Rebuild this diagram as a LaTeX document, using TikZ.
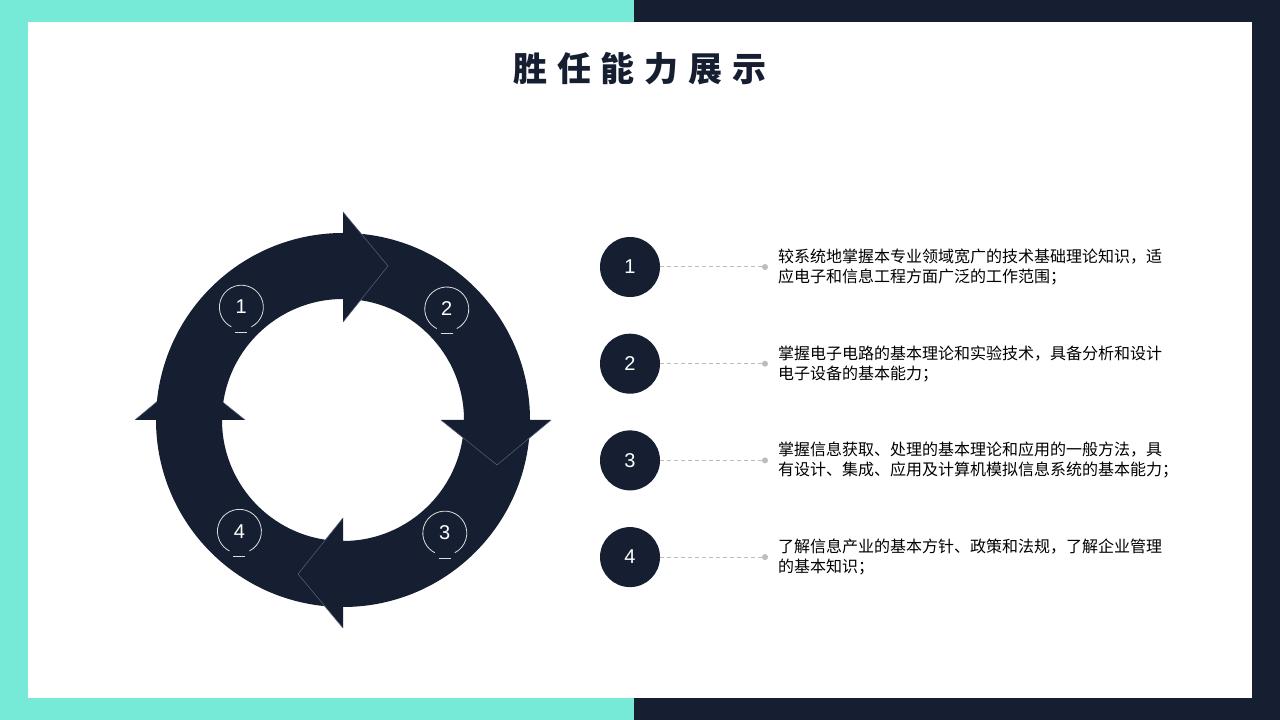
\documentclass[tikz,border=0pt]{standalone}
\usepackage{fontspec}
\setmainfont{Liberation Sans}
\newfontfamily\cjk{Noto Sans CJK SC}
\usetikzlibrary{positioning}
\definecolor{navy}{HTML}{161E31}
\definecolor{mint}{HTML}{76EAD7}
\definecolor{seamgray}{HTML}{535B6E}
\definecolor{leadgray}{HTML}{BDBDBD}

\begin{document}
\begin{tikzpicture}[
  x=1pt, y=1pt,
  every node/.style={inner sep=0pt},
  seam/.style={draw=seamgray, line width=0.6pt},
  ringno/.style={circle, minimum size=44pt, text=white, font=\fontsize{20}{24}\selectfont},
  ringline/.style={draw=white!85!navy, line width=0.8pt},
  badge/.style={circle, fill=navy, minimum size=60pt, text=white, font=\fontsize{20}{24}\selectfont},
  dot/.style={circle, fill=leadgray, minimum size=6pt},
  leader/.style={draw=leadgray, line width=1pt, dash pattern=on 4pt off 3pt},
  desc/.style={anchor=west, align=left, text=black, font=\cjk\fontsize{16}{20}\selectfont}
]
  \useasboundingbox (0,0) rectangle (1280,720);
  \fill[mint] (0,0) rectangle (634,720);
  \fill[navy] (634,0) rectangle (1280,720);
  \fill[white] (28,22) rectangle (1252,698);

  \node[text=navy, font=\cjk\bfseries\fontsize{34}{40}\selectfont] (title) at (640,651)
    {胜\hspace{10pt}任\hspace{10pt}能\hspace{10pt}力\hspace{10pt}展\hspace{10pt}示};

  % cycle of four arrows
  \begin{scope}[shift={(343,300)}]
    \foreach \s in {-90,0,90,180} {
      \begin{scope}[rotate=\s-180]
        \fill[navy] (180:187) arc[start angle=180, end angle=90, radius=187]
          -- (90:208) -- (45,154) -- (90:98) -- (90:121)
          arc[start angle=90, end angle=180, radius=121] -- cycle;
        \draw[seam] (90:208) -- (45,154) -- (90:98);
      \end{scope}
    }
    \foreach \n/\a in {1/132,2/47,3/-48,4/-133} {
      \node[ringno] (r\n) at (\a:152) {\n};
      \draw[ringline] (r\n.-63) arc[start angle=-63, end angle=243, radius=22];
      \draw[ringline] ([shift={(-6,-25)}]r\n.center) -- ++(12,0);
    }
  \end{scope}

  % numbered list
  \foreach \k/\y in {1/453,2/356.3,3/259.6,4/162.9} {
    \node[badge] (b\k) at (630,\y) {\k};
    \node[dot] (d\k) at (765,\y) {};
    \draw[leader] (b\k) -- (d\k);
  }
  \node[desc] (t1) at (778,453) {较系统地掌握本专业领域宽广的技术基础理论知识，适\\应电子和信息工程方面广泛的工作范围；};
  \node[desc] (t2) at (778,356.3) {掌握电子电路的基本理论和实验技术，具备分析和设计\\电子设备的基本能力；};
  \node[desc] (t3) at (778,259.6) {掌握信息获取、处理的基本理论和应用的一般方法，具\\有设计、集成、应用及计算机模拟信息系统的基本能力；};
  \node[desc] (t4) at (778,162.9) {了解信息产业的基本方针、政策和法规，了解企业管理\\的基本知识；};
\end{tikzpicture}
\end{document}
